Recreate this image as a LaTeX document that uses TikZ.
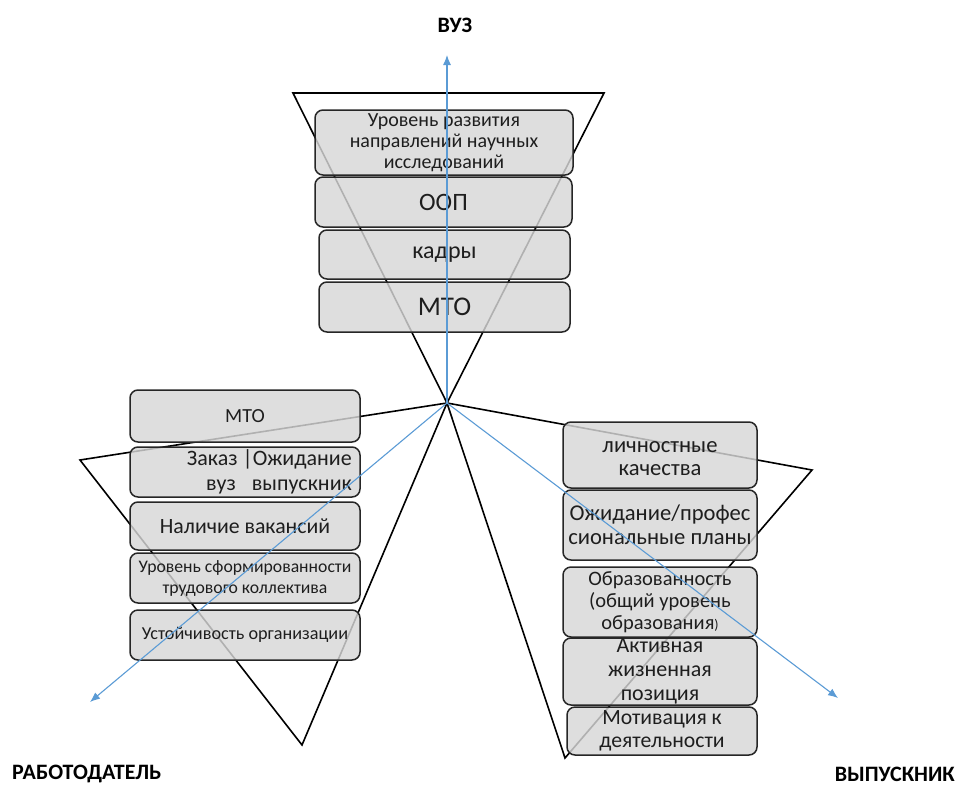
\documentclass[tikz,border=0pt]{standalone}
\usepackage{fontspec}
\setmainfont{Carlito}
\usetikzlibrary{arrows.meta}
\definecolor{axisblue}{RGB}{91,155,213}
\definecolor{boxfill}{RGB}{215,215,215}
\definecolor{txt}{RGB}{30,30,30}
\tikzset{
  tri/.style={draw=black, line width=1.6pt, line join=miter},
  axis/.style={draw=axisblue, line width=1.1pt, -{Latex[length=10pt,width=8pt]}},
  box/.style={draw=black!85, line width=1.5pt, rounded corners=8pt, fill=boxfill,
    fill opacity=0.82, text opacity=1, text=txt, align=center, inner sep=0pt},
  boxtext/.style={text=txt, align=center, inner sep=0pt},
  lbl/.style={font=\fontsize{22}{24}\selectfont\bfseries, text=black, inner sep=0pt}
}
\begin{document}
\begin{tikzpicture}[x=1pt,y=-1pt]
\useasboundingbox (0,0) rectangle (960,787);
% key points
\coordinate (C) at (447,403);
\coordinate (tl) at (293,93);
\coordinate (tr) at (604,93);
\coordinate (el) at (80,460);
\coordinate (eb) at (302,745);
\coordinate (gr) at (812,470);
\coordinate (gb) at (565,758);
\coordinate (aU) at (447,55);
\coordinate (aL) at (90,702);
\coordinate (aR) at (838,698);
% triangles
\draw[tri] (tl) -- (tr) -- (C) -- cycle;
\draw[tri] (el) -- (C) -- (eb) -- cycle;
\draw[tri] (C) -- (gr) -- (gb) -- cycle;
% top boxes (VUZ)
\node[box, minimum width=258pt, minimum height=65pt, font=\fontsize{20}{21}\selectfont] (b1) at (444,142.5)
  {Уровень развития\\направлений научных\\исследований};
\node[box, minimum width=257pt, minimum height=50pt, font=\fontsize{25}{26}\selectfont] (b2) at (443.5,202) {ООП};
\node[box, minimum width=251pt, minimum height=49pt, font=\fontsize{24}{26}\selectfont] (b3) at (444.5,254.5) {кадры};
\node[box, minimum width=251pt, minimum height=50pt, font=\fontsize{27}{28}\selectfont] (b4) at (444.5,307) {МТО};
% employer boxes
\node[box, minimum width=230pt, minimum height=52pt, font=\fontsize{20}{22}\selectfont] (e1) at (245,416) {МТО};
\node[box, minimum width=230pt, minimum height=50pt] (e2) at (245,472) {};
\node[anchor=east, align=right, inner sep=0pt, text=txt, font=\fontsize{22}{25}\selectfont] (e2t) at (352,472)
  {Заказ |Ожидание\\вуз\enspace\ выпускник};
\node[box, minimum width=230pt, minimum height=48pt, font=\fontsize{21.8}{23}\selectfont] (e3) at (245,526) {Наличие вакансий};
\node[box, minimum width=230pt, minimum height=50pt, font=\fontsize{17.7}{21}\selectfont] (e4) at (245,578)
  {Уровень сформированности\\трудового коллектива};
\node[box, minimum width=230pt, minimum height=50pt, font=\fontsize{18.2}{20}\selectfont] (e5) at (245,635) {Устойчивость организации};
% graduate boxes
\node[box, minimum width=194pt, minimum height=66pt] (r1) at (660,455) {};
\node[boxtext, font=\fontsize{22.6}{23}\selectfont] (r1t) at (660,459) {личностные\\качества};
\node[box, minimum width=194pt, minimum height=70pt, font=\fontsize{22.6}{24}\selectfont] (r2) at (660,525) {Ожидание/профес\\сиональные планы};
\node[box, minimum width=194pt, minimum height=70pt, font=\fontsize{20.5}{22}\selectfont] (r3) at (660,602)
  {Образованность\\(общий уровень\\образования{\fontsize{14}{14}\selectfont)}};
\node[box, minimum width=194pt, minimum height=67pt, font=\fontsize{22}{24}\selectfont] (r4) at (660,671.5) {Активная\\жизненная\\позиция};
\node[box, minimum width=190pt, minimum height=48pt, font=\fontsize{21.7}{23}\selectfont] (r5) at (662,731) {Мотивация к\\деятельности};
% axes
\draw[axis] (C) -- (aU);
\draw[axis] (C) -- (aL);
\draw[axis] (C) -- (aR);
% labels
\node[lbl] (vuz) at (455,25) {ВУЗ};
\node[lbl, anchor=west] (rab) at (12,774) {РАБОТОДАТЕЛЬ};
\node[lbl, anchor=east] (vyp) at (955,774) {ВЫПУСКНИК};
\end{tikzpicture}
\end{document}
